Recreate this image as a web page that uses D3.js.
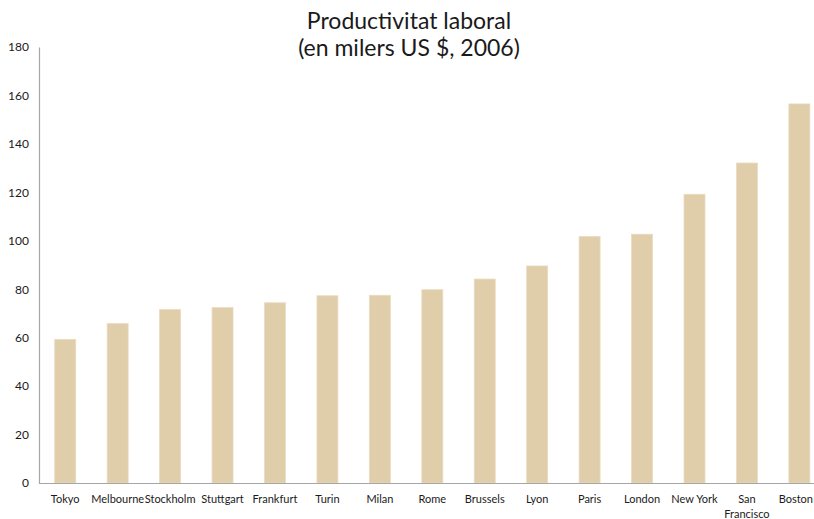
<!DOCTYPE html>
<html>
<head>
<meta charset="utf-8">
<script src="https://cdn.jsdelivr.net/npm/d3@7"></script>
<style>
  html, body { margin: 0; padding: 0; background: #fff; }
  svg { display: block; }
</style>
</head>
<body>
<svg id="chart" width="814" height="519"></svg>
<script>
const categories = ["Tokyo","Melbourne","Stockholm","Stuttgart","Frankfurt","Turin","Milan","Rome","Brussels","Lyon","Paris","London","New York","San Francisco","Boston"];
const values = [59.3, 65.8, 71.6, 72.4, 74.4, 77.3, 77.5, 79.8, 84.2, 89.6, 101.8, 102.7, 119.2, 132.1, 156.5];
const yTicks = [0, 20, 40, 60, 80, 100, 120, 140, 160, 180];
const titleLines = ["Productivitat laboral", "(en milers US $, 2006)"];

(function() {
const svg = d3.select("#chart");
const font = "Lato, 'Open Sans', 'Liberation Sans', sans-serif";
const mLeft = 39, mTop = 47, mBottom = 483;
const step = 52.44;

const x = d3.scaleBand().domain(categories).range([mLeft, mLeft + step * categories.length]).paddingInner(0.6).paddingOuter(0.3);
const y = d3.scaleLinear().domain([0, 180]).range([mBottom, mTop]);

// title
svg.append("g").selectAll("text").data(titleLines).join("text")
  .attr("x", 409).attr("y", (d, i) => 29 + i * 27)
  .attr("text-anchor", "middle")
  .attr("font-family", font).attr("font-size", 23).attr("fill", "#1a1a1a")
  .text(d => d);

// bars
svg.append("g").selectAll("rect").data(values).join("rect")
  .attr("x", (d, i) => x(categories[i]))
  .attr("y", d => y(d))
  .attr("width", x.bandwidth())
  .attr("height", d => y(0) - y(d))
  .attr("fill", "#E0CDA9")
  .attr("stroke", "#EADBC0").attr("stroke-width", 0.8);

// y axis
const yAxis = svg.append("g").attr("transform", `translate(${mLeft},0)`)
  .call(d3.axisLeft(y).tickValues(yTicks).tickSize(0).tickPadding(10));
yAxis.select(".domain").attr("stroke", "#a6a6a6").attr("stroke-width", 1.2);
yAxis.selectAll("text").attr("font-family", font).attr("font-size", 12).attr("fill", "#1a1a1a");

// x axis
const xAxis = svg.append("g").attr("transform", `translate(0,${mBottom})`)
  .call(d3.axisBottom(x).tickSize(0).tickPadding(12));
xAxis.select(".domain").attr("d", `M${mLeft},0.5H814`).attr("stroke", "#a6a6a6").attr("stroke-width", 1.2);
xAxis.selectAll("text")
  .attr("font-family", font).attr("font-size", 11).attr("fill", "#1a1a1a")
  .each(function(d) {
    const t = d3.select(this);
    if (d === "San Francisco") {
      t.text(null).attr("dy", null);
      t.append("tspan").attr("x", 0).attr("dy", "0.71em").text("San");
      t.append("tspan").attr("x", 0).attr("dy", "1.35em").text("Francisco");
    }
    if (d === "Boston") {
      t.attr("text-anchor", "end").attr("x", 813 - x(d) - x.bandwidth() / 2);
    }
  });
})();
</script>
</body>
</html>
